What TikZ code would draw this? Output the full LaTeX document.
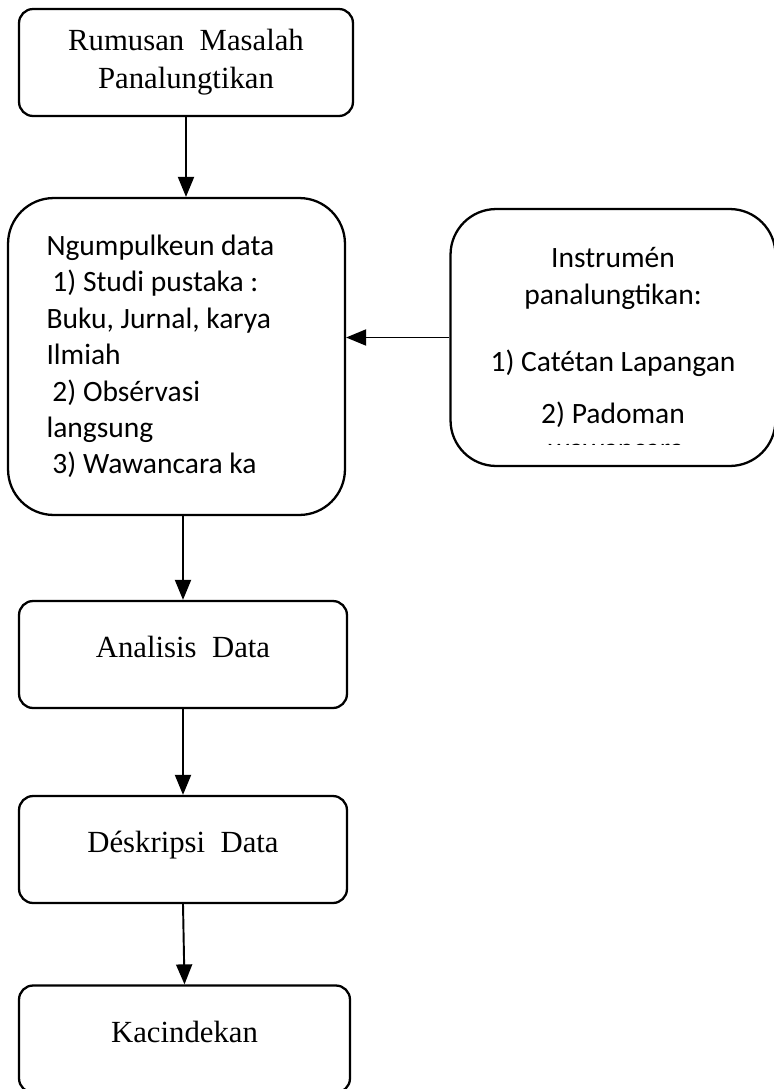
\documentclass[tikz,border=0pt]{standalone}
\usepackage{fontspec}
\setmainfont{Liberation Serif}
\newfontfamily\calibri{Carlito}
\usetikzlibrary{positioning, arrows.meta}

\begin{document}
\begin{tikzpicture}[
        x=0.02cm, y=-0.02cm,
        tahap/.style={
            rectangle, rounded corners=8pt, draw=black, line width=1.3pt,
            minimum width=6.56cm, minimum height=2.14cm, align=center,
            font=\fontsize{17.5}{21.5}\selectfont
        },
        naek/.style={text height=12pt, text depth=8.3pt},
        gede/.style={
            rectangle, rounded corners=26pt, draw=black, line width=1.3pt,
            font=\calibri\fontsize{16.8}{20.7}\selectfont
        },
        arrow/.style={line width=1.1pt, -{Triangle[length=0.4cm, width=0.32cm]}}
    ]
    \useasboundingbox (0,0) rectangle (774,1089);

    % Main steps
    \node (rumusan) [tahap, minimum width=6.68cm] at (186, 62.5) {
        Rumusan\ \ Masalah\\Panalungtikan
    };

    \node (ngumpul) [gede, minimum width=6.74cm, minimum height=6.34cm,
        text width=5.2cm, align=flush left] at (176.5, 356.5) {
        Ngumpulkeun data\\
        \hspace*{0.2em}1) Studi pustaka :\\
        Buku, Jurnal, karya\\
        Ilmiah\\
        \hspace*{0.2em}2) Obsérvasi\\
        langsung\\
        \hspace*{0.2em}3) Wawancara ka
    };

    \node (instrumen) [gede, minimum width=6.5cm, minimum height=5.14cm,
        align=flush center, font=\calibri\fontsize{16.8}{21}\selectfont] at (613, 337.5) {
        Instrumén\\
        panalungtikan:\\[17pt]
        1) Catétan Lapangan\\[9pt]
        2) Padoman
    };

    % Cut-off line at the bottom of the right box
    \begin{scope}
        \clip (449,430) rectangle (774,444);
        \node (wawancara) [anchor=base, font=\calibri\fontsize{16.8}{21}\selectfont]
            at (616,458) {wawancara};
    \end{scope}

    \node (analisis) [tahap, naek] at (183, 654.5) {Analisis\ \ Data};

    \node (deskripsi) [tahap, naek] at (183, 849.5) {Déskripsi\ \ Data};

    \node (kacindekan) [tahap, naek, minimum width=6.62cm] at (184.5, 1039) {Kacindekan};

    % Arrows
    \draw [arrow] (rumusan.south) -- (rumusan.south |- ngumpul.north);
    \draw [arrow] (instrumen.west) -- (instrumen.west -| ngumpul.east);
    \draw [arrow] (analisis.north |- ngumpul.south) -- (analisis.north);
    \draw [arrow] (analisis.south) -- (deskripsi.north);
    \draw [arrow] (deskripsi.south) -- (kacindekan.north);

\end{tikzpicture}
\end{document}
